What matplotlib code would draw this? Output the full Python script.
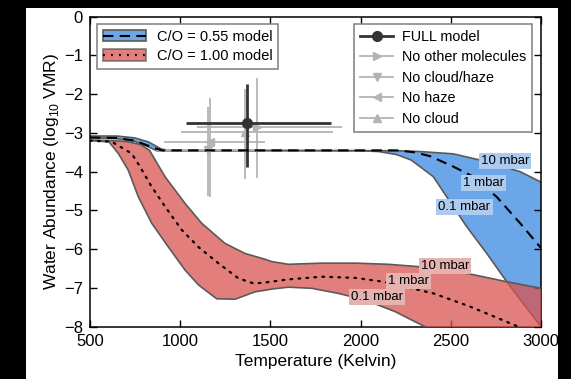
import numpy as np
import matplotlib
matplotlib.use("Agg")
from matplotlib import pyplot as plt
from matplotlib.patches import Patch, Rectangle
from matplotlib.lines import Line2D

plt.rcParams['font.family'] = ['Liberation Sans', 'DejaVu Sans']
plt.rcParams['mathtext.fontset'] = 'custom'
plt.rcParams['mathtext.rm'] = 'Liberation Sans'

# C/O = 0.55 model envelope and median (log10 VMR)
blue_up_T = [500, 650, 750, 823, 897, 950, 1500, 2200, 2329, 2514, 2699, 2884, 3000]
blue_up_v = [-3.08, -3.08, -3.13, -3.23, -3.42, -3.45, -3.45, -3.46, -3.48, -3.54, -3.74, -4.0, -4.27]
blue_lo_T = [500, 650, 750, 820, 870, 1500, 2000, 2100, 2200, 2280, 2329, 2403, 2477, 2588, 2699, 2810, 2900, 3000]
blue_lo_v = [-3.12, -3.15, -3.22, -3.35, -3.46, -3.46, -3.46, -3.48, -3.56, -3.7, -3.87, -4.13, -4.65, -5.42, -6.11, -6.84, -7.4, -8.0]
blue_med_T = [500, 650, 750, 850, 900, 1500, 2200, 2300, 2385, 2514, 2625, 2754, 2884, 2985, 3000]
blue_med_v = [-3.12, -3.13, -3.2, -3.38, -3.45, -3.45, -3.45, -3.5, -3.6, -3.87, -4.13, -4.65, -5.33, -5.89, -5.97]

# C/O = 1.00 model envelope and median
red_up_T = [500, 620, 700, 780, 830, 916, 1027, 1119, 1248, 1359, 1470, 1507, 1599, 1784,
            1969, 2154, 2320, 2606, 2810, 3000]
red_up_v = [-3.18, -3.2, -3.22, -3.3, -3.45, -4.13, -4.82, -5.33, -5.85, -6.11, -6.26, -6.32,
            -6.39, -6.36, -6.36, -6.39, -6.45, -6.64, -6.84, -7.01]
red_lo_T = [500, 605, 657, 712, 768, 842, 934, 1027, 1101, 1202, 1304, 1415, 1507, 1599, 1729,
            1876, 2024, 2191, 2301, 2375, 2500, 3000]
red_lo_v = [-3.2, -3.23, -3.53, -3.96, -4.65, -5.33, -5.94, -6.54, -6.92, -7.28, -7.29, -7.1,
            -7.03, -6.98, -7.01, -7.14, -7.31, -7.61, -7.87, -8.04, -8.3, -9.0]
red_med_T = [500, 600, 629, 731, 777, 842, 916, 1008, 1100, 1211, 1322, 1405, 1451, 1599, 1784,
             1969, 2126, 2403, 2606, 2828, 2900, 3000]
red_med_v = [-3.2, -3.22, -3.25, -3.53, -3.87, -4.39, -4.9, -5.5, -5.94, -6.36, -6.75, -6.88,
             -6.87, -6.78, -6.71, -6.74, -6.84, -7.14, -7.48, -7.91, -8.05, -8.3]

# retrieved abundances: T, T err (low, high), log VMR, err (low, high)
ret_names = ['FULL model', 'No other molecules', 'No cloud/haze', 'No haze', 'No cloud']
ret_T = [1372, 1424, 1156, 1165, 1359]
ret_Terr_lo = [342, 329, 290, 255, 356]
ret_Terr_hi = [462, 471, 300, 305, 486]
ret_v = [-2.74, -2.84, -3.44, -3.23, -2.97]
ret_verr_lo = [1.13, 1.33, 1.2, 1.42, 1.22]
ret_verr_hi = [1.0, 1.27, 1.1, 1.13, 1.1]
ret_markers = ['o', '>', 'v', '<', '^']

# pressure labels on each band
blue_lab = ['10 mbar', '1 mbar', '0.1 mbar']
blue_lab_T = [2800, 2680, 2575]
blue_lab_v = [-3.72, -4.3, -4.92]
red_lab = ['10 mbar', '1 mbar', '0.1 mbar']
red_lab_T = [2468, 2265, 2089]
red_lab_v = [-6.43, -6.82, -7.23]

blue = '#6aa6e8'
red = '#d9534f'
edge = '#5a5a5a'
gray = '#b4b4b4'
dark = '#333333'

fig = plt.figure(figsize=(5.71, 3.79), dpi=100, facecolor='black')
fig.patches.append(Rectangle((0.0455, 0.0), 0.932, 0.978, transform=fig.transFigure,
                             facecolor='white', edgecolor='none', zorder=-10))
ax = fig.add_axes([0.1576, 0.138, 0.79, 0.818])

ax.fill(np.r_[blue_up_T, blue_lo_T[::-1]], np.r_[blue_up_v, blue_lo_v[::-1]],
        facecolor=blue, edgecolor='none', zorder=1)
ax.plot(blue_up_T, blue_up_v, color=edge, lw=1.2, zorder=2)
ax.plot(blue_lo_T, blue_lo_v, color=edge, lw=1.2, zorder=2)

ax.fill(np.r_[red_up_T, red_lo_T[::-1]], np.r_[red_up_v, red_lo_v[::-1]],
        facecolor=red, alpha=0.75, edgecolor='none', zorder=3)
ax.plot(red_up_T, red_up_v, color=edge, lw=1.2, zorder=4)
ax.plot(red_lo_T, red_lo_v, color=edge, lw=1.2, zorder=4)

handles2 = []
for i in range(len(ret_names))[::-1]:
    c = dark if i == 0 else gray
    lw = 2.0 if i == 0 else 1.3
    ms = 7 if i == 0 else 6
    ax.errorbar(ret_T[i], ret_v[i],
                xerr=[[ret_Terr_lo[i]], [ret_Terr_hi[i]]],
                yerr=[[ret_verr_lo[i]], [ret_verr_hi[i]]],
                fmt=ret_markers[i], color=c, ms=ms, elinewidth=lw, capsize=0,
                mec=c, zorder=5 if i else 6)
for i in range(len(ret_names)):
    c = dark if i == 0 else gray
    handles2.append(Line2D([], [], color=c, lw=2.0 if i == 0 else 1.3,
                           marker=ret_markers[i], ms=7 if i == 0 else 6, mec=c))

ax.plot(blue_med_T, blue_med_v, color='black', lw=1.5, ls=(0, (5, 3)), zorder=7)
ax.plot(red_med_T, red_med_v, color='black', lw=1.6, ls=(0, (0.8, 2.8)),
        dash_capstyle='round', zorder=7)

for s, t, v in zip(blue_lab, blue_lab_T, blue_lab_v):
    ax.text(t, v, s, fontsize=9.5, ha='center', va='center', zorder=8,
            bbox=dict(facecolor='#adcbee', edgecolor='none', pad=1.5))
for s, t, v in zip(red_lab, red_lab_T, red_lab_v):
    ax.text(t, v, s, fontsize=9.5, ha='center', va='center', zorder=8,
            bbox=dict(facecolor='#e4b2af', edgecolor='none', pad=1.5))

ax.set_xlim(500, 3000)
ax.set_ylim(-8, 0)
ax.set_xticks([500, 1000, 1500, 2000, 2500, 3000])
ax.set_yticks(range(-8, 1))
ax.tick_params(direction='in', top=True, right=True, length=5, width=1,
               labelsize=12, pad=5)
for sp in ax.spines.values():
    sp.set_linewidth(1.1)
ax.set_xlabel('Temperature (Kelvin)', fontsize=12.5, labelpad=4)
ax.set_ylabel(r'Water Abundance (log$_{10}$ VMR)', fontsize=12.5, labelpad=2)

h1 = [(Patch(facecolor=blue, edgecolor=edge, lw=1.2),
       Line2D([], [], color='black', lw=1.5, ls=(0, (5, 3)))),
      (Patch(facecolor=red, alpha=0.75, edgecolor=edge, lw=1.2),
       Line2D([], [], color='black', lw=1.6, ls=(0, (0.8, 2.8))))]
leg1 = ax.legend(h1, ['C/O = 0.55 model', 'C/O = 1.00 model'], loc='upper left',
                 bbox_to_anchor=(0.015, 0.976), borderaxespad=0, fontsize=10.5,
                 fancybox=False, framealpha=1, edgecolor='#888888',
                 handlelength=3.0, handleheight=0.8, labelspacing=0.35,
                 handletextpad=0.7, borderpad=0.4)
leg1.get_frame().set_linewidth(1.2)
ax.add_artist(leg1)
leg2 = ax.legend(handles2, ret_names, loc='upper right', bbox_to_anchor=(0.98, 0.976),
                 borderaxespad=0, fontsize=10.4, fancybox=False, framealpha=1,
                 edgecolor='#888888', handlelength=2.3, labelspacing=0.45,
                 handletextpad=0.6, borderpad=0.4, numpoints=1)
leg2.get_frame().set_linewidth(1.2)

fig.savefig('out.png', dpi=100, facecolor=fig.get_facecolor())
